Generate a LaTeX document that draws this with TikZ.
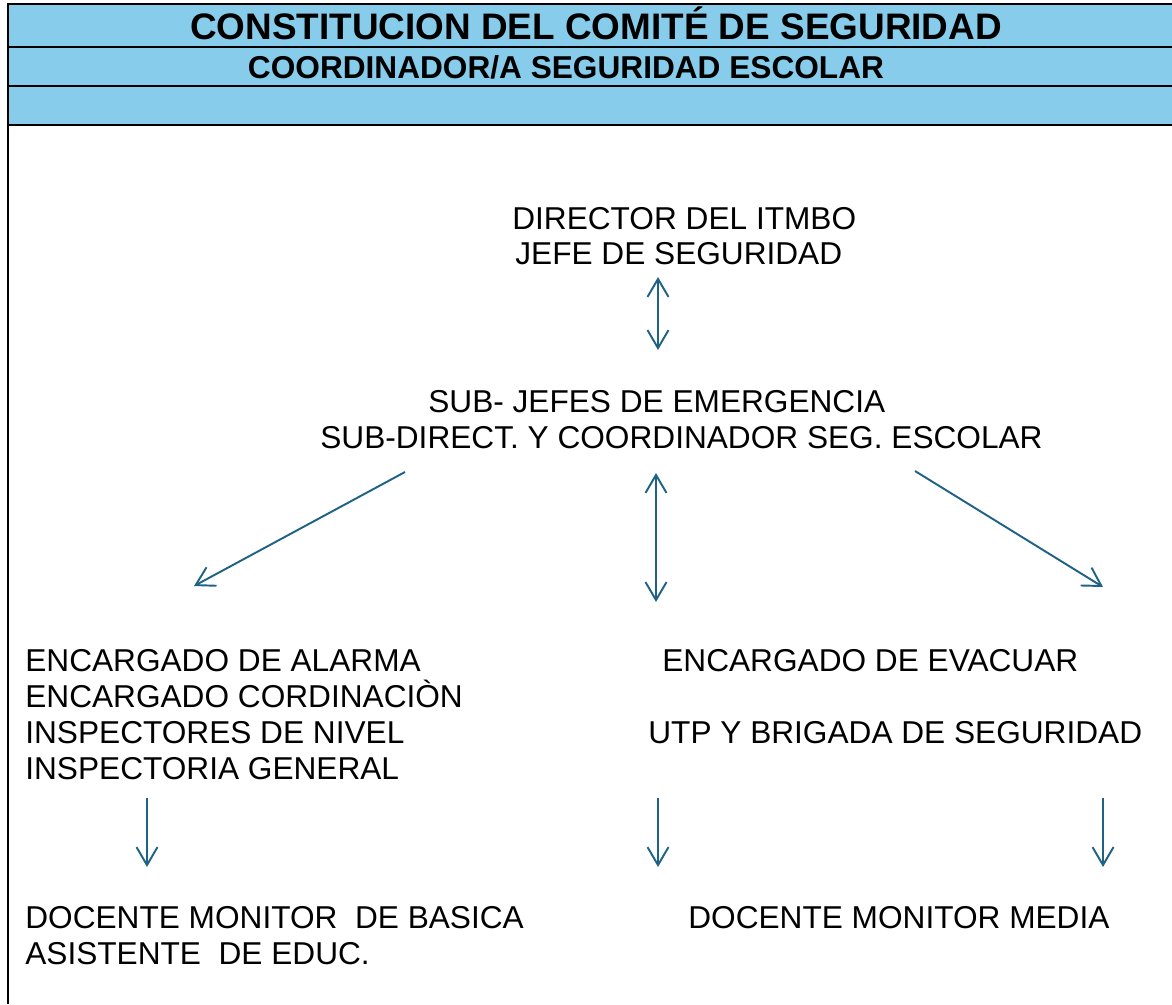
\documentclass[tikz,border=0pt]{standalone}
\usepackage{fontspec}
\setmainfont{Liberation Sans}
\usetikzlibrary{arrows.meta, positioning}
\definecolor{bandblue}{RGB}{135,204,235}
\definecolor{arrowblue}{RGB}{31,99,132}

\begin{document}
\begin{tikzpicture}[x=0.02cm, y=-0.02cm,
  lbl/.style={anchor=base west, inner sep=0pt, font=\fontsize{18}{20}\selectfont},
  ttl/.style={anchor=base, inner sep=0pt, font=\fontsize{21}{24}\selectfont\bfseries},
  subttl/.style={anchor=base, inner sep=0pt, font=\fontsize{18}{20}\selectfont\bfseries},
  arr/.style={draw=arrowblue, line width=1.1pt, >={Straight Barb[length=3.6mm,width=4.2mm]}}]
  \useasboundingbox (0,0) rectangle (1172,1004);

  % header bands
  \fill[bandblue] (8,4) rectangle (1172,125);
  \draw[line width=1.2pt]
  (8,1004) -- (8,4) -- (1172,4)
  (8,47) -- (1172,47)
  (8,86) -- (1172,86)
  (8,125) -- (1172,125);

  \node[ttl] (title) at (596,39) {CONSTITUCION DEL COMITÉ DE SEGURIDAD};
  \node[subttl] (coord) at (566,78) {COORDINADOR/A SEGURIDAD ESCOLAR};

  % texts
  \node[lbl] (dir1) at (512,229) {DIRECTOR DEL ITMBO};
  \node[lbl] (dir2) at (515,264) {JEFE DE SEGURIDAD};

  \node[lbl] (sub1) at (428,412) {SUB- JEFES DE EMERGENCIA};
  \node[lbl] (sub2) at (320,448) {SUB-DIRECT. Y COORDINADOR SEG. ESCOLAR};

  \node[lbl] (alarma) at (25,671) {ENCARGADO DE ALARMA};
  \node[lbl] (cordin) at (25,707) {ENCARGADO CORDINACIÒN};
  \node[lbl] (insnivel) at (25,743) {INSPECTORES DE NIVEL};
  \node[lbl] (insgral) at (25,779) {INSPECTORIA GENERAL};

  \node[lbl] (evacuar) at (662,671) {ENCARGADO DE EVACUAR};
  \node[lbl] (utp) at (648,743) {UTP Y BRIGADA DE SEGURIDAD};

  \node[lbl] (basica) at (25,928) {DOCENTE MONITOR\ \ DE BASICA};
  \node[lbl] (asist) at (25,964) {ASISTENTE\ \ DE EDUC.};
  \node[lbl] (media) at (688,928) {DOCENTE MONITOR MEDIA};

  % arrow ends
  \coordinate (d1) at (658,277);
  \coordinate (d2) at (658,350);
  \coordinate (l1) at (405,472);
  \coordinate (l2) at (194,586);
  \coordinate (m1) at (656,473);
  \coordinate (m2) at (656,602);
  \coordinate (r1) at (915,471);
  \coordinate (r2) at (1103,587);
  \coordinate (a1) at (147,798);
  \coordinate (a2) at (147,867);
  \coordinate (b1) at (658,798);
  \coordinate (b2) at (658,867);
  \coordinate (c1) at (1103,798);
  \coordinate (c2) at (1103,867);

  \draw[arr]
  (d1) edge[<->] (d2)
  (l1) edge[->] (l2)
  (m1) edge[<->] (m2)
  (r1) edge[->] (r2)
  (a1) edge[->] (a2)
  (b1) edge[->] (b2)
  (c1) edge[->] (c2);
\end{tikzpicture}
\end{document}
